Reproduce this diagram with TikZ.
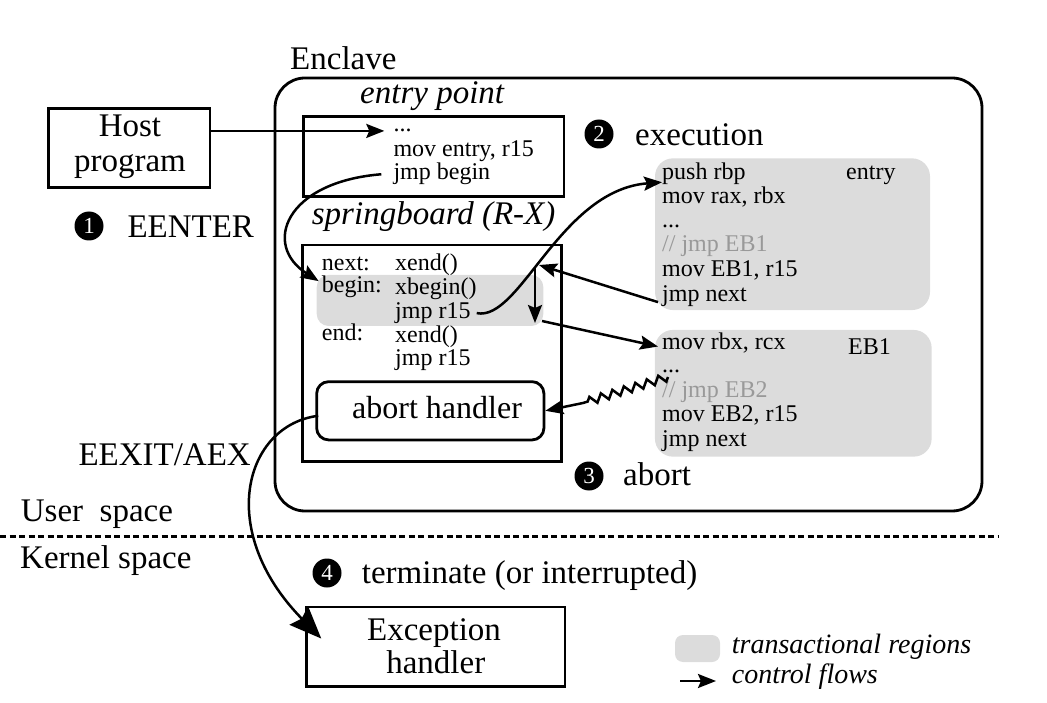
\documentclass[tikz,border=0pt]{standalone}
\usepackage{fontspec}
\setmainfont{Liberation Serif}
\usetikzlibrary{arrows.meta,decorations.pathmorphing}
\definecolor{tgrey}{HTML}{DCDCDC}
\definecolor{cgrey}{HTML}{999999}
\begin{document}
\begin{tikzpicture}[x=1pt,y=-1pt,
  big/.style={font=\fontsize{33}{33}\selectfont, inner sep=0pt, anchor=base west},
  bigit/.style={font=\fontsize{33}{33}\selectfont\itshape, inner sep=0pt, anchor=base west},
  code/.style={font=\fontsize{24}{24}\selectfont, inner sep=0pt, anchor=base west},
  legtext/.style={font=\fontsize{28}{28}\selectfont\itshape, inner sep=0pt, anchor=base west},
  box/.style={draw, line width=2.8pt, inner sep=0pt},
  treg/.style={fill=tgrey, inner sep=0pt},
  arr/.style={line width=2.5pt, -{Stealth[length=18pt,width=14pt,inset=3pt]}},
  num/.style={circle, fill=black, text=white, minimum size=29pt, inner sep=0pt, font=\fontsize{23}{23}\selectfont}
]
\useasboundingbox (0,0) rectangle (1047,703);

% Enclave
\node[box, rounded corners=30pt, minimum width=707pt, minimum height=433pt] (enclave) at (628.5,294.5) {};
\node[big] (enclavelbl) at (290,69.3) {Enclave};

% entry point
\node[bigit] (eplbl) at (360,103.3) {entry point};
\node[box, minimum width=260.7pt, minimum height=80pt] (ep) at (433.7,156.7) {};
\node[code] (ep1) at (393.3,132) {...};
\node[code] (ep2) at (393.3,157) {mov entry, r15};
\node[code] (ep3) at (393.3,180) {jmp begin};

% Host program
\node[box, minimum width=161.7pt, minimum height=79pt] (host) at (129.2,147.8) {};
\node[big, anchor=base] (host1) at (130,137) {Host};
\node[big, anchor=base] (host2) at (130,171.7) {program};

\node[num] (n1) at (89,226) {1};
\node[big] (eenter) at (127.3,237.3) {EENTER};
\node[num] (n2) at (599,134) {2};
\node[big] (exec) at (635,146) {execution};

% springboard
\node[bigit] (sblbl) at (311.7,225) {springboard (R-X)};
\node[box, minimum width=259pt, minimum height=216.7pt] (sb) at (432.2,353.3) {};
\node[treg, rounded corners=12pt, minimum width=226.6pt, minimum height=51pt] (sbgrey) at (430,300.5) {};
\node[code] (lnext) at (321.7,271) {next:};
\node[code] (lbegin) at (321.7,293) {begin:};
\node[code] (lend) at (321.7,341) {end:};
\node[code] (sb1) at (395,271) {xend()};
\node[code] (sb2) at (395,295) {xbegin()};
\node[code] (sb3) at (395,318.5) {jmp r15};
\node[code] (sb4) at (395,342) {xend()};
\node[code] (sb5) at (395,366) {jmp r15};

\node[box, rounded corners=12pt, minimum width=227.3pt, minimum height=58.3pt] (abort) at (430.3,410.8) {};
\node[font=\fontsize{32}{32}\selectfont, inner sep=0pt, anchor=base west] (abortlbl) at (352,418) {abort handler};

% entry block
\node[treg, rounded corners=18pt, minimum width=275pt, minimum height=151.7pt] (entryblk) at (792.5,234.2) {};
\node[code] (e1) at (662,180) {push rbp};
\node[code] (e2) at (662,204) {mov rax, rbx};
\node[code] (e3) at (662,228) {...};
\node[code, text=cgrey] (e4) at (662,252) {// jmp EB1};
\node[code] (e5) at (662,277) {mov EB1, r15};
\node[code] (e6) at (662,301.5) {jmp next};
\node[code] (elbl) at (846,180) {entry};

% EB1 block
\node[treg, rounded corners=18pt, minimum width=276.7pt, minimum height=126.7pt] (eb1blk) at (793.3,393.3) {};
\node[code] (b1) at (662,349) {mov rbx, rcx};
\node[code] (b2) at (662,373) {...};
\node[code, text=cgrey] (b3) at (662,397) {// jmp EB2};
\node[code] (b4) at (662,421) {mov EB2, r15};
\node[code] (b5) at (662,446) {jmp next};
\node[code] (blbl) at (848,355) {EB1};

\node[num] (n3) at (589,476) {3};
\node[big] (abortt) at (623,485) {abort};

% left labels
\node[big] (eexit) at (78.3,465) {EEXIT/AEX};
\node[big] (user) at (20.7,521.7) {User\ \ space};
\node[big] (kernel) at (20,568.3) {Kernel space};
\coordinate (dl) at (0,536.7);
\coordinate (dr) at (998,536.7);
\draw[line width=2.5pt, dash pattern=on 6pt off 3.5pt] (dl) -- (dr);

\node[num] (n4) at (327,573) {4};
\node[big] (term) at (361.7,583) {terminate (or interrupted)};

% Exception handler
\node[box, minimum width=258.3pt, minimum height=79.7pt] (exc) at (435.8,646.8) {};
\node[big, anchor=base] (exc1) at (434,640) {Exception};
\node[big, anchor=base] (exc2) at (435.8,673) {handler};

% legend
\node[treg, rounded corners=8pt, minimum width=45pt, minimum height=27pt] (leggrey) at (697.5,648.5) {};
\node[legtext] (legt1) at (731.7,653.3) {transactional regions};
\coordinate (la) at (680,681);
\coordinate (lb) at (716,681);
\draw[arr] (la) -- (lb);
\node[legtext] (legt2) at (731.7,683.3) {control flows};

% connectors
\draw[arr] (host.east |- ep1.west) -- ([xshift=-9pt]ep1.west);
\draw[arr] ([xshift=-12pt]ep3.west) .. controls (285,182) and (262,245) .. ([xshift=-3pt,yshift=-5pt]lbegin.north west);
\draw[arr] ([xshift=6pt]sb3.east) .. controls (520,322) and (560,190) .. ([yshift=-8pt]e1.west);
\coordinate (ta) at (539,265);
\draw[arr] ([xshift=-4pt,yshift=-6pt]e6.west) -- (ta);
\coordinate (da1) at (535,267);
\coordinate (da2) at (535,323);
\draw[arr] (da1) -- (da2);
\coordinate (tb) at (542,321);
\draw[arr] (tb) -- ([xshift=-4pt,yshift=-4pt]b1.west);
\coordinate (z1) at (668,377);
\coordinate (z2) at (583,403);
\draw[arr] (z1) decorate[decoration={zigzag,segment length=12pt,amplitude=4pt}]{-- (z2)} -- (abort.east);
\draw[line width=2.5pt, -{Stealth[length=32pt,width=26pt,inset=4pt]}] ([xshift=3pt,yshift=-5pt]abort.west) .. controls (245,425) and (215,530) .. ([xshift=16pt,yshift=-33pt]exc.north west);
\end{tikzpicture}
\end{document}
